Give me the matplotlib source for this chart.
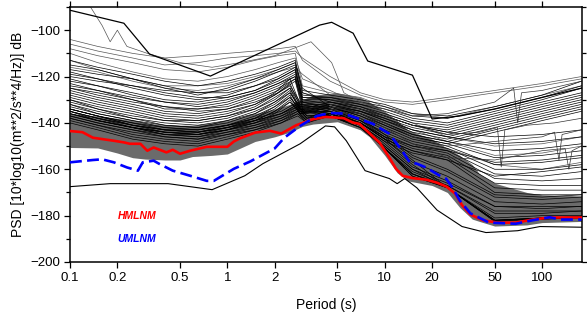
import numpy as np
import matplotlib
matplotlib.use("Agg")
import matplotlib.pyplot as plt
from matplotlib.ticker import FixedLocator, NullLocator, MultipleLocator

plt.rcParams['font.family'] = ['Liberation Sans', 'DejaVu Sans']

"""
Station PSD curves (dB). Each group has its own period nodes
(the microseism jump sits at slightly different periods).
"""
periods_faint = [0.1, 0.15, 0.25, 0.4, 0.65, 1.0, 1.5, 2.1, 2.7, 3.0,
                 4.5, 7, 10, 15, 25, 50, 100, 178]
periods_upper = [0.1, 0.15, 0.25, 0.4, 0.65, 1.0, 1.5, 2.1, 2.7, 3.0,
                 4.5, 7, 10, 15, 25, 50, 100, 178]
periods_middle = [0.1, 0.15, 0.25, 0.4, 0.65, 1.0, 1.5, 2.0, 2.5, 2.9,
                  4.5, 7, 10, 15, 25, 50, 100, 178]
periods_lower = [0.1, 0.15, 0.25, 0.4, 0.65, 1.0, 1.5, 2.2, 2.8, 3.2,
                 4.5, 7, 10, 15, 25, 50, 100, 178]

# faint, noisy stations
faint_curves = [
    [-104, -107, -110, -112, -111, -110, -109, -108, -107, -113, -122, -128, -131, -132, -130, -127, -124, -121],
    [-108, -111, -114, -117, -118, -116, -113, -111, -110, -124, -127, -129, -133, -136, -138, -133, -128, -124],
    [-110, -114, -118, -121, -122, -120, -117, -114, -112, -121, -126, -132, -136, -140, -146, -150, -149, -146],
    [-113, -117, -121, -124, -124, -123, -120, -117, -114, -127, -130, -135, -140, -146, -151, -158, -160, -157],
    [-106, -109, -112, -115, -114, -112, -111, -110, -109, -112, -120, -127, -130, -131, -129, -126, -123, -120],
    [-116, -118, -122, -125, -126, -124, -121, -118, -116, -119, -128, -134, -139, -143, -148, -154, -153, -150],
]

upper_curves = [
    [-113, -116, -119, -122, -124, -122, -119, -116, -113, -126, -128, -130, -132, -136, -137, -133, -128, -122],
    [-115, -117, -121, -124, -127, -126, -122, -118, -115, -127, -131, -134, -137, -141, -144, -146, -145, -143],
    [-117, -119, -121, -125, -128, -125, -121, -117, -114, -125, -133, -138, -145, -154, -160, -171, -172, -171],
    [-118, -121, -124, -126, -127, -127, -124, -120, -116, -129, -129, -131, -133, -137, -138, -134, -129, -124],
    [-119, -121, -125, -128, -130, -128, -124, -121, -117, -130, -132, -135, -139, -143, -146, -149, -148, -146],
    [-120, -122, -124, -127, -129, -129, -126, -122, -118, -128, -129, -132, -134, -138, -140, -135, -130, -125],
    [-121, -124, -127, -130, -131, -129, -126, -121, -117, -131, -134, -139, -146, -155, -161, -172, -173, -172],
    [-122, -124, -128, -131, -132, -130, -127, -123, -119, -129, -130, -132, -135, -139, -141, -136, -131, -127],
    [-123, -126, -129, -131, -133, -131, -127, -123, -120, -132, -132, -136, -140, -145, -148, -152, -151, -149],
    [-124, -126, -130, -133, -134, -132, -128, -124, -120, -130, -130, -133, -136, -140, -142, -137, -132, -128],
    [-125, -127, -130, -134, -134, -133, -129, -125, -121, -133, -135, -140, -147, -156, -168, -182, -181, -180.5],
    [-125, -128, -131, -133, -135, -134, -130, -126, -121, -131, -133, -137, -141, -146, -149, -155, -154, -152],
    [-126, -129, -132, -135, -136, -134, -131, -127, -122, -134, -131, -133, -137, -141, -143, -138, -133, -129],
]

middle_curves = [
    [-127, -130, -133, -136, -137, -135, -132, -127, -121, -132, -135, -140, -147, -157, -163, -174, -175, -174],
    [-128, -131, -134, -137, -138, -136, -132, -128, -123, -133, -133, -137, -142, -147, -150, -158, -157, -155],
    [-129, -132, -135, -138, -139, -137, -133, -128, -124, -131, -131, -134, -137, -141, -144, -139, -134, -130],
    [-130, -133, -136, -139, -139, -137, -134, -129, -125, -134, -136, -141, -148, -158, -168, -182, -181, -180.5],
    [-130, -134, -137, -139, -140, -138, -134, -130, -125, -132, -134, -138, -143, -148, -151, -160, -160, -158],
    [-131, -134, -138, -140, -141, -139, -135, -131, -126, -135, -132, -134, -138, -142, -145, -140, -135, -131],
    [-132, -135, -138, -141, -142, -139, -136, -131, -127, -133, -136, -141, -149, -159, -165, -176, -176, -176],
    [-132, -136, -139, -141, -142, -140, -136, -132, -127, -134, -134, -139, -144, -149, -152, -162, -163, -161],
    [-133, -136, -139, -142, -143, -141, -137, -133, -128, -136, -132, -135, -138, -143, -146, -141, -136, -132],
    [-134, -137, -140, -143, -143, -141, -138, -133, -129, -134, -137, -142, -150, -160, -168, -182, -181.5, -181],
    [-134, -137, -141, -143, -144, -142, -138, -134, -129, -135, -135, -139, -145, -150, -153, -164, -165, -164],
    [-135, -138, -141, -144, -144, -142, -139, -135, -130, -136, -133, -135, -139, -144, -147, -142, -137, -133],
    [-135, -139, -142, -144, -145, -143, -139, -135, -131, -135, -137, -142, -151, -161, -167, -178, -178, -178],
    [-136, -139, -142, -145, -145, -143, -140, -136, -131, -136, -135, -140, -146, -151, -154, -166, -167, -167],
]

lower_curves = [
    [-134, -137, -140, -142, -143, -141, -138, -135, -131, -136, -133, -136, -140, -145, -148, -143, -138, -134],
    [-134, -137, -141, -143, -144, -141, -139, -136, -132, -137, -137, -142, -151, -162, -167, -179, -179, -178],
    [-135, -138, -141, -143, -144, -142, -139, -136, -132, -137, -136, -140, -147, -152, -155, -168, -169, -169],
    [-135, -138, -142, -144, -145, -142, -140, -136, -133, -137, -137, -141, -151, -162, -168, -182.5, -181.5, -181],
    [-136, -139, -142, -144, -145, -143, -140, -137, -133, -138, -136, -140, -147, -152, -156, -170, -171, -171],
    [-136, -139, -142, -145, -146, -143, -141, -137, -134, -138, -137, -141, -151, -163, -168, -181, -180, -180],
    [-137, -140, -143, -145, -146, -144, -141, -138, -134, -138, -134, -136, -141, -146, -149, -144, -139, -135],
    [-137, -140, -143, -146, -147, -144, -142, -138, -135, -139, -137, -141, -151, -163, -168, -182, -181, -180.5],
    [-138, -141, -144, -146, -147, -145, -142, -139, -135, -139, -136, -140, -146, -150, -152, -157, -156, -154],
    [-138, -141, -145, -147, -148, -145, -143, -139, -136, -139, -136, -141, -150, -160, -166, -176, -177, -176],
    [-139, -142, -146, -148, -149, -146, -143, -140, -136, -140, -136, -141, -151, -162, -168, -182.5, -181, -180.5],
    [-140, -143, -147, -149, -150, -147, -144, -140, -137, -140, -137, -141, -148, -153, -156, -163, -161, -159],
]

# long-period curves with glitches
spike_periods = [
    [4.5, 7, 10, 15, 25, 40, 52, 55, 58, 80, 120, 178],
    [4.5, 7, 10, 15, 25, 50, 66, 70, 74, 100, 178],
    [4.5, 7, 10, 15, 25, 50, 100, 120, 128, 134, 178],
    [4.5, 7, 10, 15, 25, 50, 100, 140, 148, 155, 178],
]
spike_values = [
    [-132, -134, -137, -141, -145, -144, -142, -159, -143, -141, -140, -138],
    [-130, -131, -134, -137, -136, -131, -125, -140, -127, -126, -122],
    [-133, -136, -140, -146, -150, -148, -146, -144, -156, -145, -143],
    [-134, -138, -142, -149, -155, -156, -152, -151, -160, -152, -150],
]

# the odd curve that starts off the top of the plot
wild_periods = [0.135, 0.16, 0.18, 0.2, 0.23, 0.31, 0.5, 0.8, 1.2, 2.0, 2.6, 3.4, 4.6, 5.5, 7, 10]
wild_values = [-90, -98, -105, -100, -107, -110, -114, -116, -114, -111, -108, -105, -114, -127, -131, -135]

# envelope curves (thicker black)
top_env_p = [0.1, 0.22, 0.32, 0.78, 3.86, 4.6, 6.3, 7.8, 15, 20, 30, 50, 100, 178]
top_env = [-91.4, -97, -110.3, -119.8, -97.8, -96.6, -101.3, -113.3, -119.4, -138.3, -137, -134, -129, -125]
bot_env_p = [0.1, 0.18, 0.42, 0.8, 1.29, 1.68, 2.9, 4.2, 4.8, 5.7, 7.5, 10.7, 12, 13.4,
             16, 21.5, 31, 44, 70, 97, 178]
bot_env = [-167.5, -166.2, -166.2, -168.8, -162.8, -157.6, -149, -141.3, -141.7, -147.7, -160.6,
           -164, -166.2, -164, -168, -177.6, -184.7, -187.3, -186.5, -184.7, -185]

# shaded band
band_p = [0.1, 0.15, 0.2, 0.25, 0.3, 0.4, 0.5, 0.6, 0.8, 1.0, 1.5, 2.0, 2.5, 3.0, 3.5,
          5.0, 7.0, 8.0, 10, 12, 14, 20, 25, 30, 36, 40, 50, 80, 100, 178]
band_hi = [-136, -137, -138, -139, -140, -141, -141, -141, -140, -139, -136, -134, -132, -130, -128,
           -127, -129, -131, -135, -139, -143, -147, -151, -154, -158, -162, -166, -170, -171, -171.5]
band_lo = [-150.6, -150.8, -153, -155, -155.6, -156, -156, -154.5, -154, -153.4, -148, -146, -144, -141.5, -140.5,
           -139.5, -143, -146, -154, -161.5, -165, -167, -170, -176.5, -181.5, -182.5, -184.5, -184, -183, -182.5]

# low noise models
hmlnm_p = [0.1, 0.12, 0.14, 0.19, 0.22, 0.24, 0.28, 0.31, 0.34, 0.41, 0.45, 0.5, 0.58, 0.74, 1.0,
           1.1, 1.2, 1.5, 1.86, 2.2, 2.74, 3.5, 4.2, 4.9, 5.5, 6.3, 6.9, 7.7, 9.3, 10.7, 11.8, 13,
           15, 18.4, 21.5, 24.7, 28, 31, 35, 42, 52, 68, 87, 112, 140, 178]
hmlnm = [-143.5, -144, -146.4, -147.7, -148.4, -149, -149, -152, -150.6, -152.7, -151.6, -153.3, -152,
         -150.3, -150.3, -148, -146.7, -144.2, -143.4, -144.6, -141, -138.4, -137.4, -137.7, -138, -139.9,
         -140.4, -143.4, -148.6, -155, -159.8, -162.8, -163.8, -164.5, -165.8, -167.5, -170.5, -175.5,
         -179.5, -182, -183, -183, -181.7, -180.8, -180.8, -180.8]
umlnm_p = [0.1, 0.14, 0.16, 0.19, 0.23, 0.27, 0.29, 0.34, 0.37, 0.45, 0.58, 0.74, 0.82, 1.1, 1.4,
           2.0, 2.3, 2.9, 3.7, 4.5, 5.5, 6.9, 8.4, 10.7, 12.9, 14.4, 16, 18.4, 22, 24.5, 27, 30, 35,
           46, 68, 87, 112, 130, 178]
umlnm = [-157, -156, -155.7, -157, -159.2, -160.6, -157, -156.3, -157.7, -160.6, -162.8, -165, -165,
         -159.8, -156.6, -151, -146.4, -141.3, -137, -135.7, -136, -138.3, -140.4, -144.7, -152, -157,
         -157.6, -159.3, -162.5, -164, -168, -173.5, -179, -183, -183.5, -182, -180.7, -181.7, -181.7]

xticks = [0.1, 0.2, 0.5, 1, 2, 5, 10, 20, 50, 100]
xticklabels = ['0.1', '0.2', '0.5', '1', '2', '5', '10', '20', '50', '100']

fig = plt.figure(figsize=(5.87, 3.32), dpi=100)
ax = fig.add_axes([70 / 587, 70 / 332, 511.5 / 587, 255 / 332])

ax.fill_between(band_p, band_lo, band_hi, color='#6b6b6b', lw=0, zorder=1)

for c in faint_curves:
    ax.plot(periods_faint, c, color='#555555', lw=0.5, zorder=2)
for p, group in ((periods_upper, upper_curves), (periods_middle, middle_curves),
                 (periods_lower, lower_curves)):
    for c in group:
        ax.plot(p, c, color='black', lw=0.5, zorder=2)
for p, v in zip(spike_periods, spike_values):
    ax.plot(p, v, color='#333333', lw=0.5, zorder=2)
ax.plot(wild_periods, wild_values, color='#555555', lw=0.5, zorder=2)

ax.plot(top_env_p, top_env, color='black', lw=0.9, zorder=3)
ax.plot(bot_env_p, bot_env, color='black', lw=0.8, zorder=3)

ax.plot(hmlnm_p, hmlnm, color='red', lw=1.9, zorder=4)
ax.plot(umlnm_p, umlnm, color='blue', lw=1.9, dashes=(4.5, 2), zorder=5)

ax.text(0.2, -180, 'HMLNM', color='red', fontsize=7.5, fontweight='bold',
        fontstyle='italic', ha='left', va='center')
ax.text(0.2, -190, 'UMLNM', color='blue', fontsize=7.5, fontweight='bold',
        fontstyle='italic', ha='left', va='center')

ax.set_xscale('log')
ax.set_xlim(0.1, 178)
ax.set_ylim(-200, -90)
ax.xaxis.set_major_locator(FixedLocator(xticks))
ax.set_xticklabels(xticklabels)
ax.xaxis.set_minor_locator(NullLocator())
ax.yaxis.set_major_locator(MultipleLocator(20))
ax.yaxis.set_minor_locator(MultipleLocator(10))

ax.tick_params(which='both', direction='out', top=True, right=True,
               labelsize=9.5, width=0.9, pad=3)
ax.tick_params(which='major', length=4)
ax.tick_params(which='minor', length=2.8)
for s in ax.spines.values():
    s.set_linewidth(1.1)

ax.set_xlabel('Period (s)', fontsize=10, labelpad=10)
ax.set_ylabel('PSD [10*log10(m**2/s**4/Hz)] dB', fontsize=10, labelpad=4)

fig.savefig('out.png', dpi=100)
